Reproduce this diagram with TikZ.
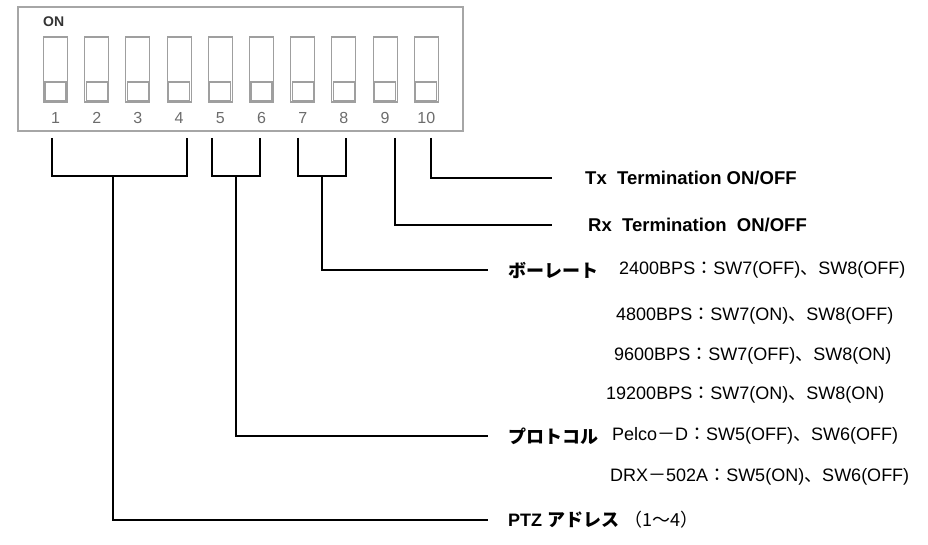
\documentclass[tikz,border=0pt]{standalone}
\usepackage{fontspec}
\setmainfont{Liberation Sans}
\newfontfamily\jp{Noto Sans CJK JP}
\usetikzlibrary{positioning}

\begin{document}
\begin{tikzpicture}[x=1pt, y=-1pt,
    body/.style={draw=gray!70, line width=1.4pt},
    slot/.style={draw=gray!75, line width=1.1pt, minimum width=24pt, minimum height=65pt, inner sep=0pt},
    knob/.style={draw=gray!75, line width=1.1pt},
    num/.style={text=gray!85!black, font=\fontsize{16}{16}\selectfont, inner sep=0pt},
    lbl/.style={anchor=west, inner sep=0pt, font=\fontsize{18}{18}\selectfont},
    wire/.style={draw=black, line width=2.4pt}]
    \useasboundingbox (0,0) rectangle (928,545);
    % the switch block
    \draw[body] (18,7) rectangle (463,131);
    \node[anchor=west, inner sep=0pt, text=black!80, font=\bfseries\fontsize{14}{14}\selectfont] (on) at (43,22) {ON};
    \foreach \i in {1,...,10} {
        \pgfmathsetmacro\x{55.5+41.2*(\i-1)}
        \node[slot] (sw\i) at (\x,69.5) {};
        \draw[knob] (\x-10.5,82) rectangle (\x+10.5,100.5);
        \node[num] (n\i) at (\x,118) {\i};
    }
    % bracket ends under the switches
    \coordinate (a1) at (52,138);
    \coordinate (a4) at (187,138);
    \coordinate (a5) at (212,138);
    \coordinate (a6) at (260,138);
    \coordinate (a7) at (298,138);
    \coordinate (a8) at (346,138);
    \coordinate (a9) at (395,138);
    \coordinate (a10) at (431,138);
    \coordinate (j1) at (113,176);
    \coordinate (j2) at (236,176);
    \coordinate (j3) at (322,176);
    % texts on the right
    \node[lbl, font=\fontsize{18.5}{18.5}\selectfont] (tx) at (585,178) {\bfseries Tx\ \ Termination ON/OFF};
    \node[lbl, font=\fontsize{18.5}{18.5}\selectfont] (rx) at (588,225) {\bfseries Rx\ \ Termination\ \ ON/OFF};
    \node[lbl] (baud) at (508,270) {\jp\bfseries ボーレート};
    \node[lbl] (b1) at (619,270) {2400BPS{\jp ：}SW7(OFF){\jp 、}SW8(OFF)};
    \node[lbl] (b2) at (616,316) {4800BPS{\jp ：}SW7(ON){\jp 、}SW8(OFF)};
    \node[lbl] (b3) at (614,356) {9600BPS{\jp ：}SW7(OFF){\jp 、}SW8(ON)};
    \node[lbl] (b4) at (606,395) {19200BPS{\jp ：}SW7(ON){\jp 、}SW8(ON)};
    \node[lbl] (proto) at (508,436) {\jp\bfseries プロトコル};
    \node[lbl] (p1) at (612,436) {Pelco{\jp －}D{\jp ：}SW5(OFF){\jp 、}SW6(OFF)};
    \node[lbl] (p2) at (610,477) {DRX{\jp －}502A{\jp ：}SW5(ON){\jp 、}SW6(OFF)};
    \node[lbl] (ptz) at (508,520) {\bfseries PTZ {\jp アドレス}\ {\jp\mdseries （1〜4）}};
    % brackets and leads
    \draw[wire] (a10) |- ([xshift=-33pt]tx.west);
    \draw[wire] (a9) |- ([xshift=-36pt]rx.west);
    \draw[wire] (a7) |- (j3) -| (a8);
    \draw[wire] (j3) |- ([xshift=-20pt]baud.west);
    \draw[wire] (a5) |- (j2) -| (a6);
    \draw[wire] (j2) |- ([xshift=-20pt]proto.west);
    \draw[wire] (a1) |- (j1) -| (a4);
    \draw[wire] (j1) |- ([xshift=-20pt]ptz.west);
\end{tikzpicture}
\end{document}
